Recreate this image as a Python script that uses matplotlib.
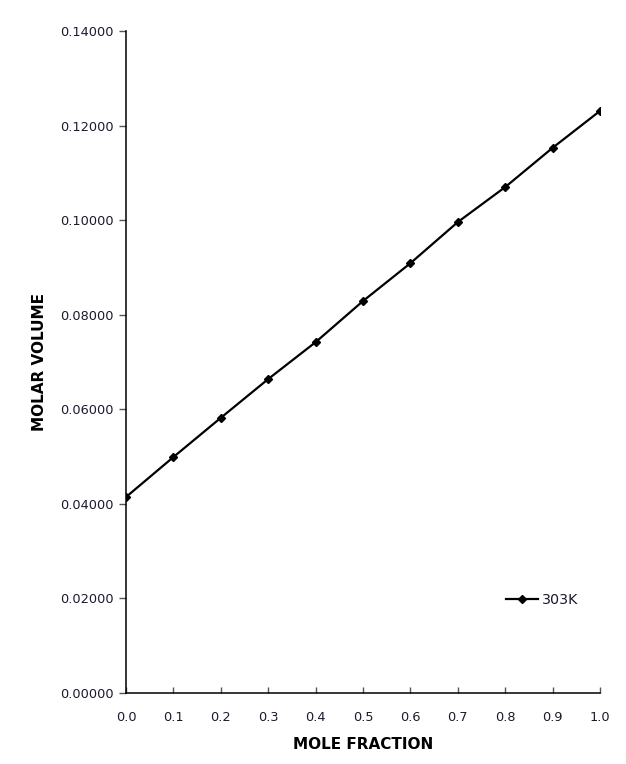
import numpy as np
import matplotlib
matplotlib.use("Agg")
import matplotlib.pyplot as plt
from matplotlib.ticker import FormatStrFormatter

# data
mole_fraction = [0.0, 0.1, 0.2, 0.3, 0.4, 0.5, 0.6, 0.7, 0.8, 0.9, 1.0]
molar_volume = [0.04145, 0.04990, 0.05820, 0.06640, 0.07420, 0.08290,
                0.09090, 0.09960, 0.10700, 0.11530, 0.12310]
series_name = "303K"

x_ticks = np.arange(0, 1.01, 0.1)
y_ticks = np.arange(0, 0.1401, 0.02)

txt_color = "#1a1a2e"

fig = plt.figure(figsize=(6.26, 7.64), dpi=100)
ax = fig.add_axes([0.2013, 0.0929, 0.7572, 0.8665])

ax.plot(mole_fraction, molar_volume, color="black", lw=1.6,
        marker="D", ms=4.5, mfc="black", mec="black", label=series_name)

ax.set_xlim(0, 1.0)
ax.set_ylim(0, 0.14)
ax.set_xticks(x_ticks)
ax.set_yticks(y_ticks)
ax.xaxis.set_major_formatter(FormatStrFormatter("%.1f"))
ax.yaxis.set_major_formatter(FormatStrFormatter("%.5f"))

for s in ["top", "right"]:
    ax.spines[s].set_visible(False)
for s in ["left", "bottom"]:
    ax.spines[s].set_linewidth(1.1)

ax.tick_params(axis="y", direction="out", length=5, width=1, pad=4,
               labelsize=9.3, labelcolor=txt_color, color="#555555")
ax.tick_params(axis="x", direction="in", length=4, width=1, pad=13,
               labelsize=9.3, labelcolor=txt_color, color="#555555")

ax.set_xlabel("MOLE FRACTION", fontfamily="DejaVu Sans", fontweight="bold",
              fontsize=11, labelpad=9, color="black")
ax.set_ylabel("MOLAR VOLUME", fontfamily="DejaVu Sans", fontweight="bold",
              fontsize=11, labelpad=9, color="black")

ax.legend(loc="center left", bbox_to_anchor=(0.79, 0.1405), frameon=False,
          fontsize=10.3, handlelength=2.2, handletextpad=0.3, borderaxespad=0,
          labelcolor=txt_color)

fig.savefig("out.png", dpi=100)
